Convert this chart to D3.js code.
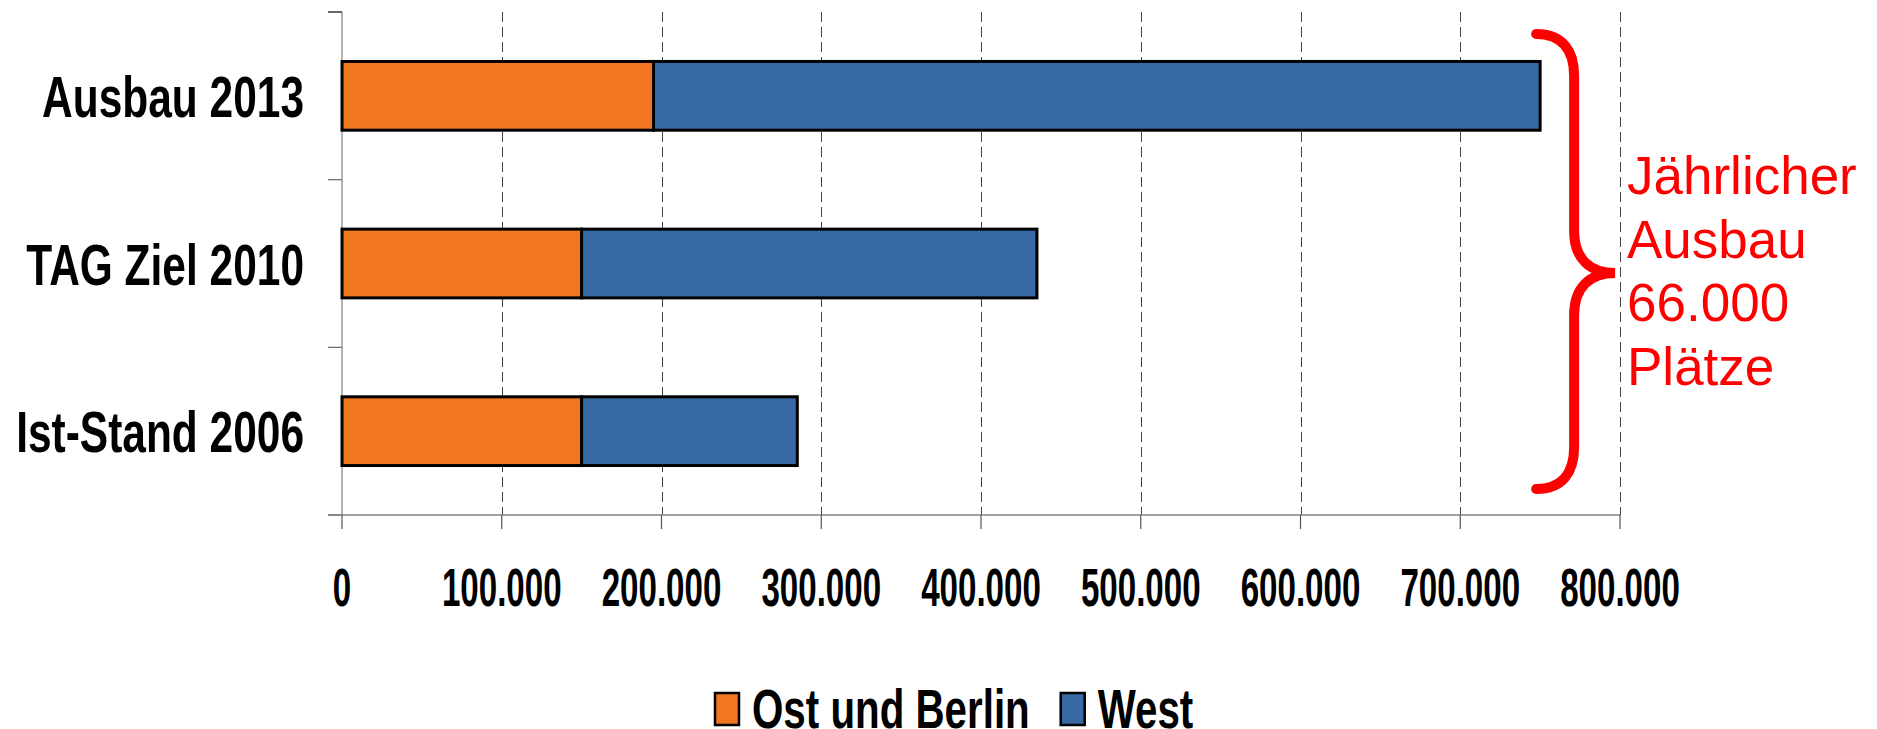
<!DOCTYPE html>
<html>
<head>
<meta charset="utf-8">
<script src="https://cdn.jsdelivr.net/npm/d3@7"></script>
<style>
  html, body { margin: 0; padding: 0; background: #fff; }
  svg { display: block; }
</style>
</head>
<body>
<svg id="chart"></svg>
<script>
// data
const categories = ['Ausbau 2013', 'TAG Ziel 2010', 'Ist-Stand 2006']
const seriesNames = ['Ost und Berlin', 'West']
const ostValues = [195000, 150000, 150000]
const westValues = [555000, 285000, 135000]
const xTicks = [0, 100000, 200000, 300000, 400000, 500000, 600000, 700000, 800000]
const noteLines = ['Jährlicher', 'Ausbau', '66.000', 'Plätze']

const width = 1877
const height = 729
const margin = { top: 12, right: 257, bottom: 214, left: 342 }
const colors = ['#f07620', '#376aa2']
const font = '"Liberation Sans", Arial, sans-serif'

const table = categories.map((c, i) => ({
  cat: c,
  'Ost und Berlin': ostValues[i],
  West: westValues[i],
}))

const svg = d3.select('#chart').attr('width', width).attr('height', height)

svg.append('rect')
  .attr('width', width)
  .attr('height', height)
  .attr('fill', '#fff')

const x = d3.scaleLinear()
  .domain([0, 800000])
  .range([margin.left, width - margin.right])

const y = d3.scaleBand()
  .domain(categories)
  .range([margin.top, height - margin.bottom])
  .paddingInner(0.59)
  .paddingOuter(0.295)

const stacked = d3.stack().keys(seriesNames)(table)

// german number format
const fmt = d3.formatLocale({ decimal: ',', thousands: '.', grouping: [3], currency: ['', '€'] }).format(',d')

// dashed grid
svg.append('g')
  .selectAll('line')
  .data(xTicks.filter((d) => d > 0))
  .join('line')
  .attr('x1', (d) => Math.round(x(d)) + 0.5)
  .attr('x2', (d) => Math.round(x(d)) + 0.5)
  .attr('y1', margin.top)
  .attr('y2', height - margin.bottom)
  .attr('stroke', '#444')
  .attr('stroke-width', 1)
  .attr('stroke-dasharray', '10,5')

// y axis: line + ticks at band boundaries
const step = y.step()
const yBounds = d3.range(categories.length + 1).map((i) => margin.top + i * step)
const yAxis = svg.append('g')
yAxis.append('line')
  .attr('x1', x(0)).attr('x2', x(0))
  .attr('y1', margin.top).attr('y2', height - margin.bottom)
  .attr('stroke', '#808080').attr('stroke-width', 1.2)
yAxis.selectAll('.tk')
  .data(yBounds)
  .join('line')
  .attr('x1', x(0) - 14).attr('x2', x(0))
  .attr('y1', (d) => d).attr('y2', (d) => d)
  .attr('stroke', (d, i) => (i === 0 ? '#000' : '#666'))
  .attr('stroke-width', 1.2)

// x axis
const xAxis = svg.append('g').attr('transform', `translate(0,${height - margin.bottom})`)
xAxis.append('line')
  .attr('x1', x(0) - 14).attr('x2', x(800000))
  .attr('stroke', '#808080').attr('stroke-width', 1.4)
xAxis.selectAll('.tk')
  .data(xTicks)
  .join('line')
  .attr('x1', (d) => x(d)).attr('x2', (d) => x(d))
  .attr('y1', 0).attr('y2', 14)
  .attr('stroke', '#555').attr('stroke-width', 1.2)
xAxis.selectAll('text')
  .data(xTicks)
  .join('text')
  .attr('transform', (d) => `translate(${x(d)},91) scale(0.613,1)`)
  .attr('text-anchor', 'middle')
  .attr('font-family', font)
  .attr('font-weight', 'bold')
  .attr('font-size', 54)
  .attr('fill', '#000')
  .text((d) => fmt(d))

// category labels
svg.append('g')
  .selectAll('text')
  .data(categories)
  .join('text')
  .attr('transform', (d) => `translate(304,${y(d) + y.bandwidth() / 2 + 21}) scale(0.745,1)`)
  .attr('text-anchor', 'end')
  .attr('font-family', font)
  .attr('font-weight', 'bold')
  .attr('font-size', 57)
  .attr('fill', '#000')
  .text((d) => d)

// bars
svg.append('g')
  .selectAll('g')
  .data(stacked)
  .join('g')
  .attr('fill', (d, i) => colors[i])
  .selectAll('rect')
  .data((d) => d)
  .join('rect')
  .attr('x', (d) => x(d[0]))
  .attr('width', (d) => x(d[1]) - x(d[0]))
  .attr('y', (d) => y(d.data.cat))
  .attr('height', y.bandwidth())
  .attr('stroke', '#000')
  .attr('stroke-width', 3)

// brace annotation
const bx0 = x(750000) - 4
const bxs = bx0 + 38
const btip = bx0 + 79
const by0 = margin.top + 22
const by1 = height - margin.bottom - 26
const bmid = margin.top + 261
const brace = d3.path()
brace.moveTo(bx0, by0)
brace.bezierCurveTo(bx0 + 26, by0, bxs, by0 + 16, bxs, by0 + 42)
brace.lineTo(bxs, bmid - 42)
brace.bezierCurveTo(bxs, bmid - 14, bxs + 16, bmid, btip, bmid)
brace.bezierCurveTo(bxs + 16, bmid, bxs, bmid + 14, bxs, bmid + 42)
brace.lineTo(bxs, by1 - 42)
brace.bezierCurveTo(bxs, by1 - 16, bx0 + 26, by1, bx0, by1)
svg.append('path')
  .attr('d', brace.toString())
  .attr('fill', 'none')
  .attr('stroke', '#ff0000')
  .attr('stroke-width', 10)
  .attr('stroke-linecap', 'round')

svg.append('g')
  .selectAll('text')
  .data(noteLines)
  .join('text')
  .attr('x', x(800000) + 7)
  .attr('y', (d, i) => 194 + i * 63.7)
  .attr('font-family', font)
  .attr('font-size', 53)
  .attr('fill', '#ff0000')
  .text((d) => d)

// legend
const legend = svg.append('g').attr('transform', 'translate(714,692)')
let lx = 0
seriesNames.forEach((name, i) => {
  const item = legend.append('g').attr('transform', `translate(${lx},0)`)
  item.append('rect')
    .attr('x', 1).attr('y', 1)
    .attr('width', 24).attr('height', 32)
    .attr('fill', colors[i])
    .attr('stroke', '#000')
    .attr('stroke-width', 2.5)
  const t = item.append('text')
    .attr('transform', 'translate(38,36) scale(0.72,1)')
    .attr('font-family', font)
    .attr('font-weight', 'bold')
    .attr('font-size', 56)
    .attr('fill', '#000')
    .text(name)
  lx += 38 + t.node().getComputedTextLength() * 0.72 + 30
})
</script>
</body>
</html>
